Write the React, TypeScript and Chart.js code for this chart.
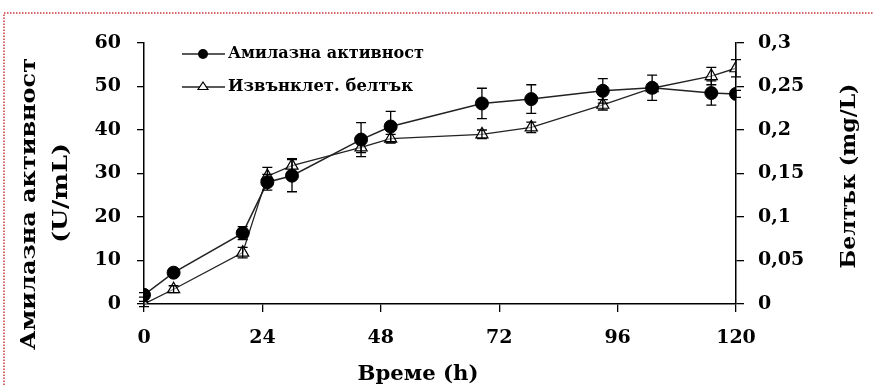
import React, { useEffect, useRef } from "react";
import { Chart, registerables } from "chart.js";

Chart.register(...registerables);

// ---- data ----
const timeHours = [0, 6, 20, 25, 30, 44, 50, 68.5, 78.5, 93, 103, 115, 120];
const amylaseActivity = [2.1, 7.2, 16.3, 28.0, 29.5, 37.8, 40.8, 46.1, 47.1, 49.0, 49.7, 48.5, 48.3];
const amylaseError = [0.5, 0.8, 1.5, 1.8, 3.7, 3.9, 3.5, 3.5, 3.3, 2.8, 2.9, 2.8, 0.8];
const proteinConc = [0, 0.017, 0.059, 0.147, 0.159, 0.18, 0.19, 0.195, 0.203, 0.229, 0.248, 0.262, 0.271];
const proteinError = [0.003, 0.004, 0.006, 0.01, 0.008, 0.006, 0.005, 0.005, 0.006, 0.006, 0.005, 0.01, 0.01];

const seriesLabels = ["Амилазна активност", "Извънклет. белтък"];
const xTicks = [0, 24, 48, 72, 96, 120];
const leftTicks = [0, 10, 20, 30, 40, 50, 60];
const rightTickLabels = ["0", "0,05", "0,1", "0,15", "0,2", "0,25", "0,3"];
const leftTitleLines = ["Амилазна активност", "(U/mL)"];
const rightTitle = "Белтък (mg/L)";
const xTitle = "Време (h)";

const FONT = '"DejaVu Serif"';

function drawFitted(
  ctx: CanvasRenderingContext2D,
  text: string,
  cx: number,
  cy: number,
  targetW: number,
  size: number,
  rot: number
) {
  ctx.save();
  ctx.translate(cx, cy);
  ctx.rotate(rot);
  ctx.font = `bold ${size}px ${FONT}`;
  const w = ctx.measureText(text).width;
  ctx.scale(targetW / w, 1);
  ctx.textAlign = "center";
  ctx.textBaseline = "middle";
  ctx.fillStyle = "#000";
  ctx.fillText(text, 0, 0);
  ctx.restore();
}

const backgroundPlugin = {
  id: "bgBorder",
  beforeDraw(chart: any) {
    const ctx = chart.ctx as CanvasRenderingContext2D;
    ctx.save();
    ctx.fillStyle = "#fff";
    ctx.fillRect(0, 0, chart.width, chart.height);
    ctx.strokeStyle = "#c83a3a";
    ctx.lineWidth = 1.5;
    ctx.setLineDash([1.5, 1.5]);
    ctx.beginPath();
    ctx.moveTo(4, chart.height);
    ctx.lineTo(4, 13);
    ctx.lineTo(chart.width, 13);
    ctx.stroke();
    ctx.restore();
  },
};

const errorBarPlugin = {
  id: "errorBars",
  afterDatasetsDraw(chart: any) {
    const ctx = chart.ctx as CanvasRenderingContext2D;
    chart.data.datasets.forEach((ds: any, i: number) => {
      const meta = chart.getDatasetMeta(i);
      const scale = chart.scales[meta.yAxisID];
      const errs: number[] = ds.errorBars || [];
      ctx.save();
      ctx.strokeStyle = "#000";
      ctx.lineWidth = 1.3;
      meta.data.forEach((pt: any, j: number) => {
        const v = ds.data[j].y;
        const e = errs[j] || 0;
        if (!e) return;
        const yTop = scale.getPixelForValue(v + e);
        const yBot = scale.getPixelForValue(v - e);
        const x = pt.x;
        ctx.beginPath();
        ctx.moveTo(x, yTop);
        ctx.lineTo(x, yBot);
        ctx.moveTo(x - 5, yTop);
        ctx.lineTo(x + 5, yTop);
        ctx.moveTo(x - 5, yBot);
        ctx.lineTo(x + 5, yBot);
        ctx.stroke();
      });
      ctx.restore();
    });
  },
};

function drawMarker(ctx: CanvasRenderingContext2D, style: string, x: number, y: number, r: number) {
  ctx.save();
  ctx.strokeStyle = "#000";
  ctx.lineWidth = 1.2;
  ctx.beginPath();
  if (style === "circle") {
    ctx.fillStyle = "#000";
    ctx.arc(x, y, r, 0, Math.PI * 2);
    ctx.fill();
  } else {
    ctx.fillStyle = "#fff";
    const h = r * 1.5;
    const half = r * Math.sin(Math.PI / 3);
    ctx.moveTo(x, y - r);
    ctx.lineTo(x + half * 1.15, y + h - r);
    ctx.lineTo(x - half * 1.15, y + h - r);
    ctx.closePath();
    ctx.fill();
    ctx.stroke();
  }
  ctx.restore();
}

const textPlugin = {
  id: "titlesLegend",
  afterDraw(chart: any) {
    const ctx = chart.ctx as CanvasRenderingContext2D;
    // axis titles
    drawFitted(ctx, leftTitleLines[0], 30, 204, 292, 21, -Math.PI / 2);
    drawFitted(ctx, leftTitleLines[1], 62, 193, 100, 20, -Math.PI / 2);
    drawFitted(ctx, rightTitle, 850, 176, 185, 20, -Math.PI / 2);
    drawFitted(ctx, xTitle, 418, 375, 121, 21, 0);

    // legend
    const rows = [54, 87];
    const widths = [196, 185];
    chart.data.datasets.forEach((ds: any, i: number) => {
      const y = rows[i];
      ctx.save();
      ctx.strokeStyle = "#222";
      ctx.lineWidth = 1.5;
      ctx.beginPath();
      ctx.moveTo(182, y);
      ctx.lineTo(225, y);
      ctx.stroke();
      ctx.restore();
      drawMarker(ctx, ds.pointStyle, 203, y, 5);
      drawFitted(ctx, ds.label, 228 + widths[i] / 2, y, widths[i], 16.5, 0);
    });
  },
};

export default function App() {
  const ref = useRef<HTMLCanvasElement | null>(null);

  useEffect(() => {
    if (!ref.current) return;
    const tickFont = { family: FONT, weight: "bold" as const, size: 19 };
    const chart = new Chart(ref.current, {
      type: "line",
      data: {
        datasets: [
          {
            label: seriesLabels[0],
            data: timeHours.map((t, i) => ({ x: t, y: amylaseActivity[i] })),
            yAxisID: "y",
            borderColor: "#222",
            borderWidth: 1.5,
            pointStyle: "circle",
            pointRadius: 6.5,
            pointBackgroundColor: "#000",
            pointBorderColor: "#000",
            pointBorderWidth: 1,
            tension: 0,
            errorBars: amylaseError,
          } as any,
          {
            label: seriesLabels[1],
            data: timeHours.map((t, i) => ({ x: t, y: proteinConc[i] })),
            yAxisID: "y1",
            borderColor: "#222",
            borderWidth: 1.3,
            pointStyle: "triangle",
            pointRadius: 7,
            pointBackgroundColor: "rgba(255,255,255,0.5)",
            pointBorderColor: "#000",
            pointBorderWidth: 1.2,
            tension: 0,
            errorBars: proteinError,
          } as any,
        ],
      },
      options: {
        responsive: false,
        animation: false,
        devicePixelRatio: 1,
        layout: { padding: { top: 43, left: 0, right: 0, bottom: 0 } },
        plugins: {
          legend: { display: false },
          tooltip: { enabled: false },
        },
        scales: {
          x: {
            type: "linear",
            min: xTicks[0],
            max: xTicks[xTicks.length - 1],
            afterBuildTicks: (s: any) => {
              s.ticks = xTicks.map((v) => ({ value: v }));
            },
            afterFit: (s: any) => {
              s.height = 81;
            },
            grid: {
              drawOnChartArea: false,
              drawTicks: true,
              tickLength: 8,
              color: "#000",
              lineWidth: 1.3,
            },
            border: { display: true, color: "#000", width: 1.5 },
            ticks: { font: tickFont, color: "#000", padding: 15, maxRotation: 0 },
          },
          y: {
            type: "linear",
            position: "left",
            min: 0,
            max: 60,
            afterBuildTicks: (s: any) => {
              s.ticks = leftTicks.map((v) => ({ value: v }));
            },
            afterFit: (s: any) => {
              s.width = 144;
            },
            grid: {
              drawOnChartArea: false,
              drawTicks: true,
              tickLength: 7,
              color: "#000",
              lineWidth: 1.3,
            },
            border: { display: true, color: "#000", width: 1.5 },
            ticks: { font: tickFont, color: "#000", padding: 16 },
          },
          y1: {
            type: "linear",
            position: "right",
            min: 0,
            max: 0.3,
            afterBuildTicks: (s: any) => {
              s.ticks = rightTickLabels.map((_, i) => ({ value: i * 0.05 }));
            },
            afterFit: (s: any) => {
              s.width = 137;
            },
            grid: {
              drawOnChartArea: false,
              drawTicks: true,
              tickLength: 8,
              color: "#000",
              lineWidth: 1.3,
            },
            border: { display: true, color: "#000", width: 1.5 },
            ticks: {
              font: tickFont,
              color: "#000",
              padding: 14,
              callback: (_v: any, idx: number) => rightTickLabels[idx],
            },
          },
        },
      },
      plugins: [backgroundPlugin, errorBarPlugin, textPlugin],
    });
    return () => chart.destroy();
  }, []);

  return (
    <div style={{ position: "fixed", left: 0, top: 0, width: 873, height: 385 }}>
      <canvas ref={ref} width={873} height={385} />
    </div>
  );
}
